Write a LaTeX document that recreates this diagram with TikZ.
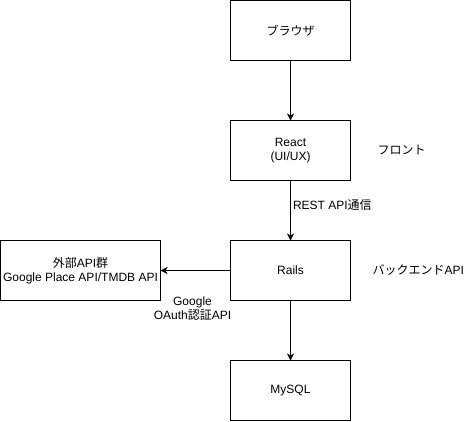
\documentclass[tikz,border=0pt]{standalone}
\usepackage{fontspec}
\setmainfont{Liberation Sans}
\newfontfamily\jp{Noto Sans CJK JP}
\usepackage{tikz}
\usetikzlibrary{positioning,arrows.meta}

\begin{document}
\begin{tikzpicture}[
    node distance=60pt,
    every node/.style={font=\fontsize{12pt}{14pt}\selectfont},
    layer/.style={draw,line width=1pt,minimum width=120pt,minimum height=60pt,inner sep=0pt,outer sep=0pt,align=center},
    extapi/.style={draw,line width=1pt,minimum width=160pt,minimum height=60pt,inner sep=0pt,outer sep=0pt,align=center},
    note/.style={inner sep=0pt,align=center},
    flow/.style={line width=1pt,-{Stealth[length=7pt,width=7pt,inset=2pt]}}
]
    \useasboundingbox (0pt,0pt) rectangle (474pt,-421pt);

    % Layers in a column
    \node[layer] (Browser) at (290.5pt,-30.5pt) {{\jp ブラウザ}};
    \node[layer] (React) [below=of Browser] {React\\(UI/UX)};
    \node[layer] (Rails) [below=of React] {Rails};
    \node[layer] (MySQL) [below=of Rails] {MySQL};

    % External APIs
    \node[extapi] (Ext) [left=70pt of Rails] {{\jp 外部}API{\jp 群}\\Google Place API/TMDB API};

    % Layer names
    \node[note,anchor=west] (Front) [right=27pt of React] {{\jp フロント}};
    \node[note,anchor=west] (Back) [right=22pt of Rails] {{\jp バックエンド}API};

    % Connections
    \draw[flow] (Browser) -- (React);
    \draw[flow] (React) -- node[note,pos=0.4,right=2pt] {REST API{\jp 通信}} (Rails);
    \draw[flow] (Rails) -- node[note,midway,below=26pt,xshift=-3pt] {Google\\OAuth{\jp 認証}API} (Ext);
    \draw[flow] (Rails) -- (MySQL);
\end{tikzpicture}
\end{document}
